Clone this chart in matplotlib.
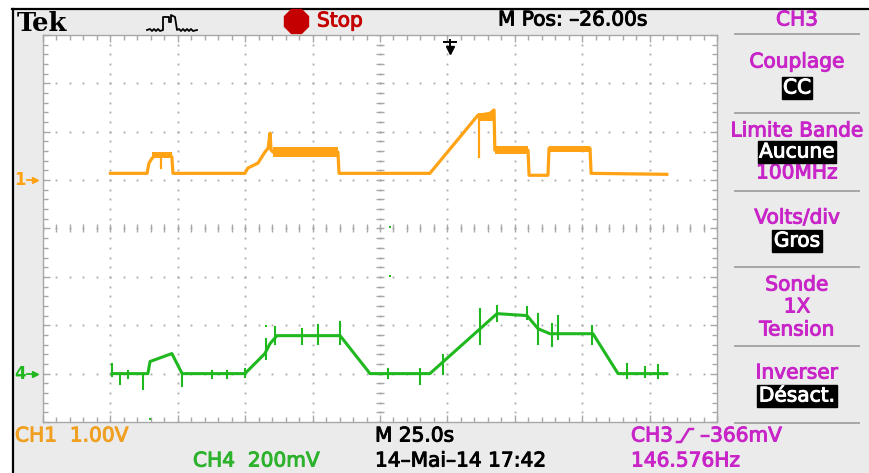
import numpy as np
import matplotlib.pyplot as plt
import matplotlib.patheffects as pe
from matplotlib.patches import Rectangle

# scope settings
sec_per_div = 25.0
ch1_v_per_div = 1.0
ch4_mv_per_div = 200.0
ch1_ground = 5.0   # divisions from bottom
ch4_ground = 1.0
m_pos = -26.0

# CH1 (orange) trace: time in s, level in V above ground marker
ch1_t = [25.0, 38.6, 39.3, 40.4, 41.9, 44.1, 47.1, 47.8, 48.2, 74.9, 76.0, 79.7,
         82.3, 83.5, 84.2, 84.6, 85.3, 109.4, 109.8, 143.5, 161.3, 165.8, 167.3,
         167.6, 179.9, 180.3, 187.3, 187.7, 202.9, 203.3, 231.4]
ch1_v = [0.14, 0.14, 0.35, 0.45, 0.52, 0.54, 0.52, 0.48, 0.14, 0.14, 0.25, 0.35,
         0.58, 0.66, 0.97, 0.62, 0.58, 0.58, 0.14, 0.14, 1.34, 1.38, 1.45,
         0.62, 0.62, 0.10, 0.10, 0.66, 0.66, 0.14, 0.12]

# noisy (thick) stretches of CH1
ch1_noise_t0 = [40.4, 85.3, 161.3, 167.6, 187.7]
ch1_noise_t1 = [47.8, 109.4, 167.3, 179.9, 202.9]
ch1_noise_lo = [0.45, 0.47, 1.22, 0.55, 0.58]
ch1_noise_hi = [0.58, 0.68, 1.38, 0.70, 0.70]

# CH1 glitches (t, V low, V high)
ch1_glitch_t = [43.8, 161.7]
ch1_glitch_lo = [0.25, 0.48]
ch1_glitch_hi = [0.52, 1.34]

# CH4 (green) trace: time in s, level in mV above ground marker
ch4_t = [25.6, 38.9, 39.7, 47.8, 51.6, 74.9, 82.3, 84.2, 86.8, 110.2, 121.3,
         143.5, 168.4, 179.5, 183.6, 188.0, 204.0, 213.3, 231.4]
ch4_mv = [0, 0, 50, 83, 0, 0, 83, 124, 157, 157, 0,
          0, 248, 240, 186, 165, 165, 0, 0]

# CH4 glitches (t, mV low, mV high)
ch4_glitch_t = [25.6, 28.6, 31.5, 37.1, 51.6, 62.7, 68.2, 74.9, 82.7, 86.0,
                96.1, 102.0, 110.2, 127.9, 139.8, 148.4, 162.1, 168.4, 179.5,
                183.6, 188.8, 191.0, 203.6, 216.6, 223.3, 228.1]
ch4_glitch_lo = [-8, -41, -20, -62, -50, -20, -20, -12, 62, 124,
                 124, 124, 124, -20, -41, 0, 124, 219, 227,
                 124, 116, 145, 124, -20, -12, -20]
ch4_glitch_hi = [41, 0, 12, 0, 0, 12, 12, 20, 145, 194,
                 186, 200, 215, 20, 20, 75, 269, 281, 277,
                 248, 207, 240, 198, 41, 29, 37]

# stray CH4 dots
ch4_dot_t = [128.7, 128.7, 39.7, 82.7]
ch4_dot_mv = [607, 405, -186, 198]

orange = '#ffa214'
green = '#1fb81f'
magenta = '#c824c8'
grey_bg = '#ebebeb'
grid_c = '#a8a8a8'
fs = 14.5


def label(axis, x, y, s, color, **kw):
    # scope font is a bit heavier than DejaVu regular
    return axis.text(x, y, s, fontsize=fs, color=color, va='center',
                     path_effects=[pe.withStroke(linewidth=0.7, foreground=color)],
                     **kw)


fig = plt.figure(figsize=(8.69, 4.73), dpi=100)

# background / chrome in pixel coordinates
bg = fig.add_axes([0, 0, 1, 1])
bg.set_xlim(0, 869)
bg.set_ylim(473, 0)
bg.axis('off')
bg.add_patch(Rectangle((12, 9), 857, 464, facecolor=grey_bg, edgecolor='none'))
bg.plot([12, 869], [9.5, 9.5], color='black', lw=1.6)
bg.plot([12.5, 12.5], [9, 473], color='black', lw=1.6)

# top bar
bg.text(17, 31, 'Tek', family='DejaVu Serif', weight='bold', fontsize=18.5,
        color='black', va='baseline')
bg.plot([147, 150, 152, 154, 156, 158, 160, 163, 163, 169, 169, 171, 171, 175, 177,
         179, 181, 183, 185, 187, 189, 191, 193, 197],
        [30, 29, 31, 29, 31, 29, 31, 30, 17, 17, 22, 22, 15, 17, 30,
         29, 31, 29, 31, 29, 31, 29, 31, 30], color='black', lw=1.3)
bg.plot([296], [21], marker='8', ms=18, color='#c40000', mec='#c40000')
label(bg, 317, 21, 'Stop', '#c40000')
label(bg, 498, 20, 'M Pos: \u2013%.2fs' % abs(m_pos), 'black')

# right menu
px = 797
for y in [34, 113, 191, 267, 346, 423]:
    bg.plot([735, 859], [y, y], color='#a0a0a0', lw=1.3)
menu = [('CH3', 20), ('Couplage', 62), ('Limite Bande', 131), ('100MHz', 173),
        ('Volts/div', 218), ('Sonde', 285), ('1X', 307), ('Tension', 330),
        ('Inverser', 373)]
for s, y in menu:
    label(bg, px, y, s, magenta, ha='center')
box = dict(facecolor='black', edgecolor='black', pad=1.0)
for s, y in [('CC', 88), ('Aucune', 152), ('Gros', 241), ('D\u00e9sact.', 396)]:
    label(bg, px, y, s, 'white', ha='center', bbox=box)

# bottom readouts
label(bg, 15, 436, 'CH1  %.2fV' % ch1_v_per_div, '#f0a020')
label(bg, 193, 461, 'CH4  %dmV' % ch4_mv_per_div, '#2cb22c')
label(bg, 375, 436, 'M %.1fs' % sec_per_div, 'black')
label(bg, 375, 461, '14\u2013Mai\u201314 17:42', 'black')
label(bg, 631, 436, 'CH3', magenta)
bg.plot([677, 681, 689, 693], [442, 442, 429, 429], color=magenta, lw=1.8)
label(bg, 700, 436, '\u2013366mV', magenta)
label(bg, 631, 461, '146.576Hz', magenta)

# graticule
ax = fig.add_axes([43 / 869, 51 / 473, 674 / 869, 387 / 473])
ax.set_facecolor('white')
ax.set_xlim(0, 10)
ax.set_ylim(0, 8)
for s in ax.spines.values():
    s.set_color(grid_c)
    s.set_linewidth(1.0)
ax.set_xticks(np.arange(0, 11, 1))
ax.set_yticks(np.arange(0, 9, 1))
ax.set_xticks(np.arange(0, 10.01, 0.2), minor=True)
ax.set_yticks(np.arange(0, 8.01, 0.2), minor=True)
ax.tick_params(which='both', direction='in', top=True, right=True,
               labelbottom=False, labelleft=False, color=grid_c, width=1)
ax.tick_params(which='major', length=5)
ax.tick_params(which='minor', length=3.5)

xs = np.arange(0, 10.01, 0.2)
ys = np.arange(0, 8.01, 0.2)
for yv in range(1, 8):
    ax.plot(xs, np.full_like(xs, yv), ls='none', marker='s', ms=1.3,
            color=grid_c, mew=0)
for xv in range(1, 10):
    ax.plot(np.full_like(ys, xv), ys, ls='none', marker='s', ms=1.3,
            color=grid_c, mew=0)
ax.plot(np.full_like(ys, 5), ys, ls='none', marker='_', ms=6, color=grid_c, mew=1)
ax.plot(xs, np.full_like(xs, 4), ls='none', marker='|', ms=6, color=grid_c, mew=1)

# CH1
t1 = np.array(ch1_t) / sec_per_div
y1 = ch1_ground + np.array(ch1_v) / ch1_v_per_div
ax.plot(t1, y1, color=orange, lw=2.3, zorder=5)
for a, b, lo, hi in zip(ch1_noise_t0, ch1_noise_t1, ch1_noise_lo, ch1_noise_hi):
    ax.fill_between([a / sec_per_div, b / sec_per_div],
                    ch1_ground + lo / ch1_v_per_div, ch1_ground + hi / ch1_v_per_div,
                    color=orange, lw=0, zorder=5)
for t, lo, hi in zip(ch1_glitch_t, ch1_glitch_lo, ch1_glitch_hi):
    ax.plot([t / sec_per_div] * 2, [ch1_ground + lo, ch1_ground + hi],
            color=orange, lw=1.6, zorder=5)

# CH4
t4 = np.array(ch4_t) / sec_per_div
y4 = ch4_ground + np.array(ch4_mv) / ch4_mv_per_div
ax.plot(t4, y4, color=green, lw=2.2, zorder=5)
for t, lo, hi in zip(ch4_glitch_t, ch4_glitch_lo, ch4_glitch_hi):
    ax.plot([t / sec_per_div] * 2,
            [ch4_ground + lo / ch4_mv_per_div, ch4_ground + hi / ch4_mv_per_div],
            color=green, lw=1.5, zorder=5)
ax.plot(np.array(ch4_dot_t) / sec_per_div,
        ch4_ground + np.array(ch4_dot_mv) / ch4_mv_per_div,
        ls='none', marker='s', ms=2, color=green, mew=0, zorder=5)

# channel ground markers
for g, lab, c in [(ch1_ground, '1', orange), (ch4_ground, '4', green)]:
    ax.text(-0.34, g, lab, fontsize=12, weight='bold', color=c, ha='center',
            va='center', clip_on=False)
    ax.plot([-0.24, -0.12], [g, g], color=c, lw=1.3, clip_on=False)
    ax.plot([-0.12], [g], marker='>', ms=5, color=c, clip_on=False)

# trigger position marker
trig = (5 * sec_per_div - m_pos) / sec_per_div
ax.plot([trig, trig], [7.9, 7.7], color='black', lw=1.4, zorder=6)
ax.plot([trig - 0.09, trig + 0.09], [7.86, 7.86], color='black', lw=1.4, zorder=6)
ax.plot([trig], [7.7], marker='v', ms=6, color='black', zorder=6)

fig.savefig('out.png', dpi=100)
